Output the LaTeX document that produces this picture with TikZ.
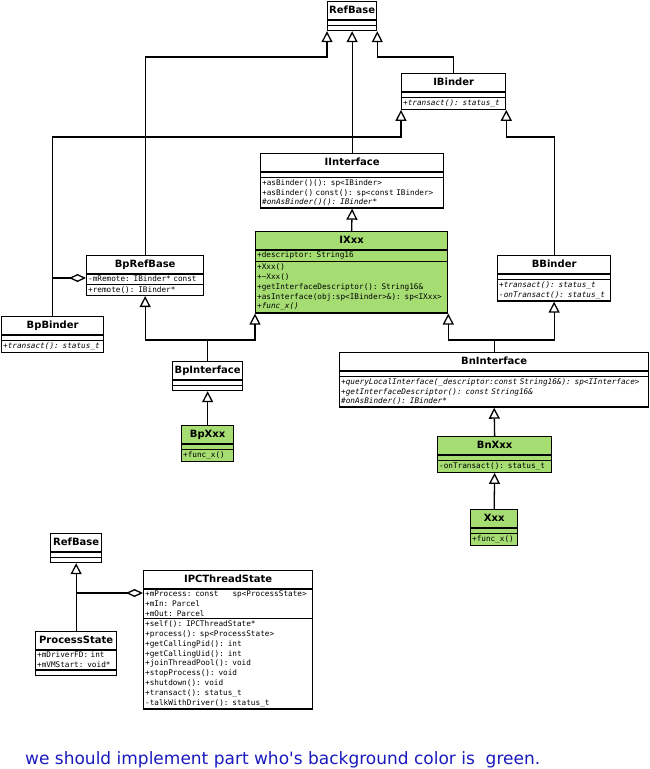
\documentclass[tikz,border=0pt]{standalone}
\usepackage{fontspec}
\setmainfont{DejaVu Sans}
\newfontfamily\umlmono{DejaVu Sans Mono}
\usetikzlibrary{shapes.multipart,arrows.meta}
\definecolor{implgreen}{RGB}{165,221,115}
\definecolor{notetext}{RGB}{25,25,190}
\newcommand{\ctitle}[1]{\centering\rmfamily\bfseries\fontsize{10}{12}\selectfont\rule[-4.5pt]{0pt}{14pt}#1\par}
\newcommand{\cnone}{\rule{0pt}{1pt}}
\tikzset{
	umlclass/.style={draw, line width=1.3pt, fill=white, rectangle split, rectangle split parts=3,
		anchor=north west, inner xsep=1.5pt, inner ysep=1.5pt, text width=#1, align=left,
		font=\umlmono\fontsize{7.7}{9.8}\selectfont},
	implclass/.style={umlclass=#1, fill=implgreen},
	gen/.style={-{Triangle[open, width=11pt, length=11pt]}, line width=1.3pt},
	agg/.style={-{Diamond[open, width=8pt, length=17pt]}, line width=1.3pt},
	link/.style={line width=1.3pt}
}
\begin{document}
\begin{tikzpicture}[x=1pt, y=-1pt]
		\useasboundingbox (0,0) rectangle (650,769);
		
		\node[umlclass=46pt] (refbase) at (327,1) {\ctitle{RefBase}\nodepart{second}\cnone\nodepart{third}\cnone};
		\node[umlclass=101pt] (ibinder) at (401,73) {\ctitle{IBinder}\nodepart{second}\cnone
			\nodepart{third}\itshape +transact(): status\_t};
		\node[umlclass=180pt] (iinterface) at (260,153) {\ctitle{IInterface}\nodepart{second}\cnone
			\nodepart{third}+asBinder()(): sp<IBinder>\\+asBinder() const(): sp<const IBinder>\\
			\textit{\#onAsBinder()(): IBinder*}};
		\node[implclass=189pt] (ixxx) at (255,231) {\ctitle{IXxx}\nodepart{second}+descriptor: String16
			\nodepart{third}+Xxx()\\+\textasciitilde Xxx()\\+getInterfaceDescriptor(): String16\&\\
			+asInterface(obj:sp<IBinder>\&): sp<IXxx>\\\textit{+func\_x()}};
		\node[umlclass=114pt] (bprefbase) at (86,255) {\ctitle{BpRefBase}\nodepart{second}-mRemote: IBinder* const
			\nodepart{third}+remote(): IBinder*};
		\node[umlclass=99pt] (bpbinder) at (1,316) {\ctitle{BpBinder}\nodepart{second}\cnone
			\nodepart{third}\itshape +transact(): status\_t};
		\node[umlclass=110pt] (bbinder) at (497,255) {\ctitle{BBinder}\nodepart{second}\cnone
			\nodepart{third}\itshape +transact(): status\_t\\-onTransact(): status\_t};
		\node[umlclass=67pt] (bpinterface) at (172,361) {\ctitle{BpInterface}\nodepart{second}\cnone\nodepart{third}\cnone};
		\node[implclass=49pt] (bpxxx) at (181,425) {\ctitle{BpXxx}\nodepart{second}\cnone\nodepart{third}+func\_x()};
		\node[umlclass=306pt] (bninterface) at (339,352) {\ctitle{BnInterface}\nodepart{second}\cnone
			\nodepart{third}\itshape +queryLocalInterface(\_descriptor:const String16\&): sp<IInterface>\\
			+getInterfaceDescriptor(): const String16\&\\\#onAsBinder(): IBinder*};
		\node[implclass=111pt] (bnxxx) at (437,436) {\ctitle{BnXxx}\nodepart{second}\cnone\nodepart{third}-onTransact(): status\_t};
		\node[implclass=44pt] (xxx) at (470,509) {\ctitle{Xxx}\nodepart{second}\cnone\nodepart{third}+func\_x()};
		
		%seconda parte
		\node[umlclass=48pt] (refbasetwo) at (50,533) {\ctitle{RefBase}\nodepart{second}\cnone\nodepart{third}\cnone};
		\node[umlclass=166pt] (ipcthreadstate) at (143,570) {\ctitle{IPCThreadState}
			\nodepart{second}+mProcess: const\hspace{14pt}sp<ProcessState>\\+mIn: Parcel\\+mOut: Parcel
			\nodepart{third}+self(): IPCThreadState*\\+process(): sp<ProcessState>\\+getCallingPid(): int\\
			+getCallingUid(): int\\+joinThreadPool(): void\\+stopProcess(): void\\+shutdown(): void\\
			+transact(): status\_t\\-talkWithDriver(): status\_t};
		\node[umlclass=78pt] (processstate) at (35,631) {\ctitle{ProcessState}
			\nodepart{second}+mDriverFD: int\\+mVMStart: void*\nodepart{third}\cnone};
		
		%ereditarieta
		\draw[gen] (iinterface.north) -- (refbase.south);
		\draw[gen] (bprefbase.north) |- (refbase.south west |- 0,57) -- (refbase.south west);
		\draw[gen] (ibinder.north) |- (refbase.south east |- 0,57) -- (refbase.south east);
		\draw[gen] (bpbinder.north) |- (ibinder.south west |- 0,137) -- (ibinder.south west);
		\draw[gen] (bbinder.north) |- (ibinder.south east |- 0,137) -- (ibinder.south east);
		\draw[gen] (ixxx.north) -- (iinterface.south);
		\coordinate (bpjoint) at (bpinterface.north |- 0,340);
		\coordinate (bnjoint) at (bninterface.north |- 0,340);
		\draw[link] (bpinterface.north) -- (bpjoint);
		\draw[gen] (bpjoint) -| (bprefbase.south);
		\draw[gen] (bpjoint) -| (ixxx.south west);
		\draw[link] (bninterface.north) -- (bnjoint);
		\draw[gen] (bnjoint) -| (ixxx.south east);
		\draw[gen] (bnjoint) -| (bbinder.south);
		\draw[gen] (bpxxx.north) -- (bpinterface.south);
		\draw[gen] (bnxxx.north) -- (bninterface.south);
		\draw[gen] (xxx.north) -- (bnxxx.south);
		\draw[gen] (processstate.north) -- (refbasetwo.south);
		
		%aggregazioni
		\draw[agg] (bpbinder.north |- 0,278) -- (bprefbase.west |- 0,278);
		\draw[agg] (processstate.north |- 0,593) -- (ipcthreadstate.west |- 0,593);
		
		\node[anchor=base west, text=notetext, font=\fontsize{17}{19}\selectfont, inner sep=0pt] (note) at (25,764)
		{we should implement part who\textquotesingle s background color is\ \ green.};
\end{tikzpicture}
\end{document}
